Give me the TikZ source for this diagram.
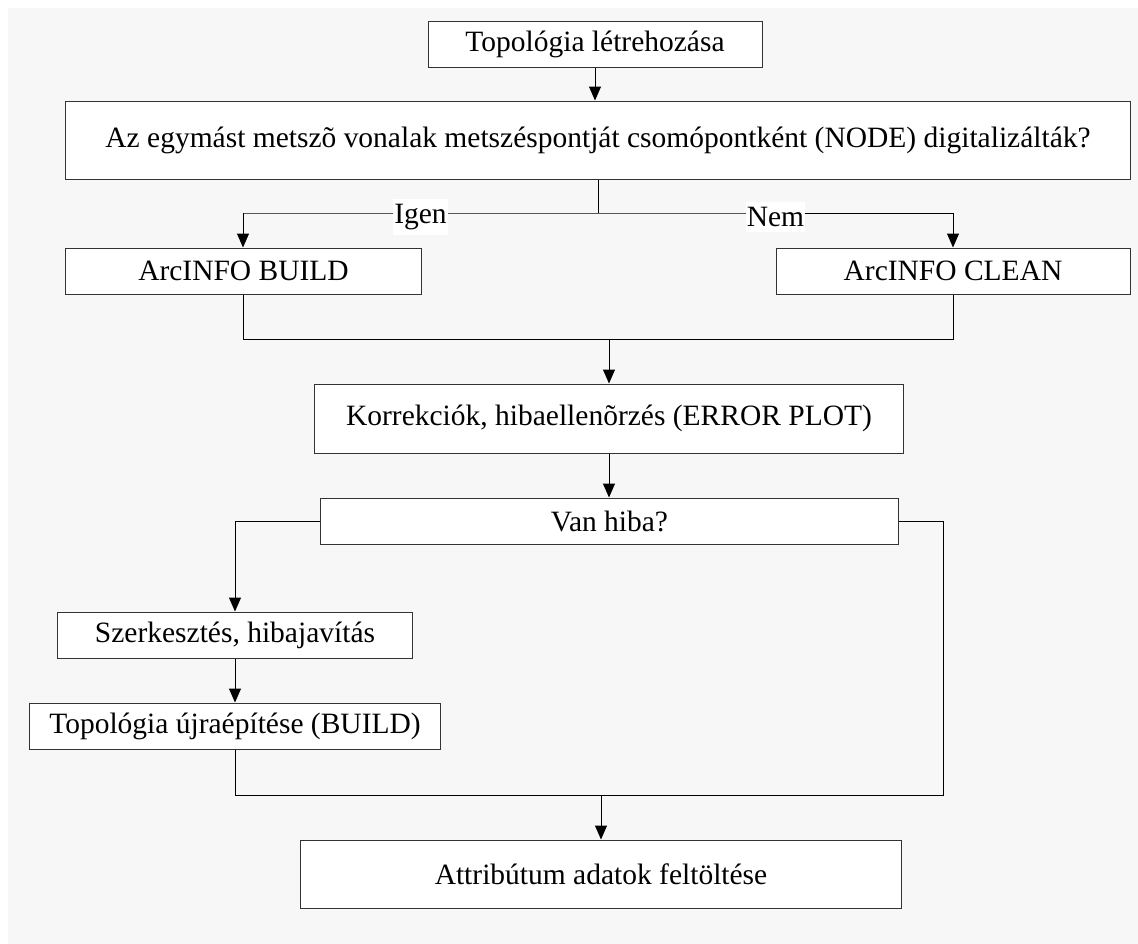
\documentclass[tikz,border=0pt]{standalone}
\usepackage{fontspec}
\setmainfont{Liberation Serif}
\usetikzlibrary{arrows.meta}
\definecolor{bgc}{HTML}{F7F7F7}
\definecolor{edge}{HTML}{333333}
\tikzset{
  box/.style={draw=edge, fill=white, line width=1bp, inner sep=0pt,
    font=\fontsize{29.6}{35}\selectfont},
  conn/.style={draw=black, line width=1bp},
  arr/.style={conn, -{Triangle[width=12bp,length=14bp]}},
  lbl/.style={fill=white, inner xsep=1bp, inner ysep=5bp, yshift=-4bp,
    font=\fontsize{29.6}{35}\selectfont}
}
\begin{document}
\begin{tikzpicture}[x=1bp, y=-1bp]
\useasboundingbox (0,0) rectangle (1138,944);
\fill[bgc] (8,8) rectangle (1138,944);

\node[box, minimum width=334bp, minimum height=46bp] (top) at (595,44) {Topológia létrehozása};
\node[box, minimum width=1064bp, minimum height=78bp] (big) at (598,140) {Az egymást metszõ vonalak metszéspontját csomópontként (NODE) digitalizálták?};
\node[box, minimum width=355bp, minimum height=46bp] (build) at (243.5,271) {ArcINFO BUILD};
\node[box, minimum width=354bp, minimum height=46bp] (clean) at (953,271) {ArcINFO CLEAN};
\node[box, minimum width=588bp, minimum height=69bp] (korr) at (609,418.5) {Korrekciók, hibaellenõrzés (ERROR PLOT)};
\node[box, minimum width=577bp, minimum height=46bp] (van) at (609.5,521) {Van hiba?};
\node[box, minimum width=355bp, minimum height=46bp] (szerk) at (235,635) {Szerkesztés, hibajavítás};
\node[box, minimum width=410bp, minimum height=46bp] (topo2) at (235,726) {Topológia újraépítése (BUILD)};
\node[box, minimum width=600bp, minimum height=68bp] (attr) at (601,874) {Attribútum adatok feltöltése};

\coordinate (yes) at (243,213);
\coordinate (no) at (953,213);
\coordinate (m1) at (243,339);
\coordinate (m2) at (953,339);
\coordinate (m3) at (943,795);

\draw[arr] (top.south) -- (top.south |- big.north);
\draw[conn] (big.south) -- (big.south |- yes);
\draw[conn] (yes) -- node[lbl]{Igen} (big.south |- yes) -- node[lbl]{Nem} (no);
\draw[arr] (yes) -- (yes |- build.north);
\draw[arr] (no) -- (no |- clean.north);
\draw[conn] (build.south -| m1) -- (m1) -- (m2) -- (clean.south -| m2);
\draw[arr] (korr.north |- m1) -- (korr.north);
\draw[arr] (korr.south) -- (van.north -| korr.south);
\draw[arr] (van.west) -- (szerk.north |- van.west) -- (szerk.north);
\draw[arr] (szerk.south) -- (topo2.north);
\draw[conn] (van.east) -- (m3 |- van.east) -- (m3) -- (topo2.south |- m3) -- (topo2.south);
\draw[arr] (attr.north |- m3) -- (attr.north);
\end{tikzpicture}
\end{document}
